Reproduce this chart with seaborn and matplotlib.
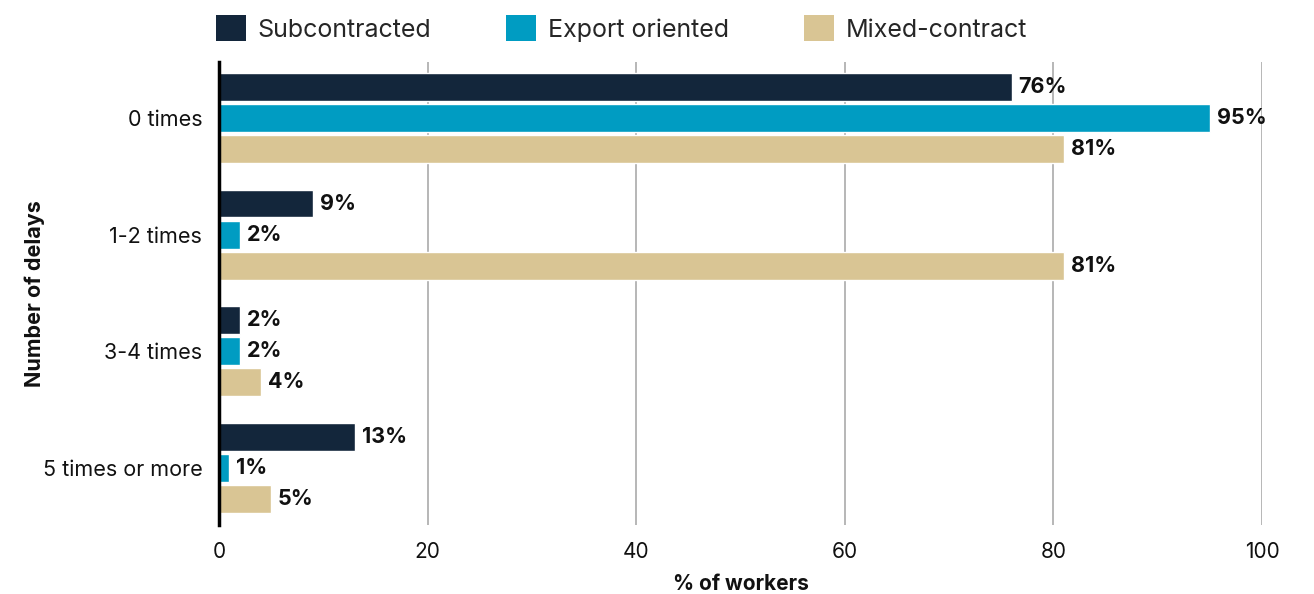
import matplotlib
matplotlib.use("Agg")
import matplotlib.pyplot as plt
import seaborn as sns
import pandas as pd
from matplotlib.patches import Patch

categories = ["0 times", "1-2 times", "3-4 times", "5 times or more"]
series = ["Subcontracted", "Export oriented", "Mixed-contract"]
subcontracted = [76, 9, 2, 13]
export_oriented = [95, 2, 2, 1]
mixed_contract = [81, 81, 4, 5]
colors = ["#13263b", "#009cc2", "#d9c594"]

rows = []
for s, vals in zip(series, [subcontracted, export_oriented, mixed_contract]):
    for c, v in zip(categories, vals):
        rows.append({"cat": c, "series": s, "value": v})
df = pd.DataFrame(rows)

sns.set_theme(style="white")
plt.rcParams["font.family"] = ["Inter", "DejaVu Sans"]

fig = plt.figure(figsize=(13.14, 5.94), dpi=100)
ax = fig.add_axes([219/1314, 1-525/594, (1262-219)/1314, (525-62)/594])

sns.barplot(data=df, y="cat", x="value", hue="series", palette=colors,
            order=categories, hue_order=series, orient="h",
            width=0.8, gap=0.1, ax=ax, legend=False, saturation=1)

for cont in ax.containers:
    ax.bar_label(cont, labels=[f"{int(v)}%" for v in cont.datavalues],
                 padding=5, fontsize=15.5, fontweight="bold", color="#111111")

ax.set_xlim(0, 100)
ax.set_ylim(3.49, -0.48)
ax.set_xticks([0, 20, 40, 60, 80, 100])
ax.xaxis.grid(True, color="#aaaaaa", linewidth=1.2)
ax.set_axisbelow(True)
for s in ["top", "right", "bottom"]:
    ax.spines[s].set_visible(False)
ax.spines["left"].set_color("black")
ax.spines["left"].set_linewidth(2.5)
ax.spines["left"].set_zorder(5)
ax.tick_params(axis="x", labelsize=15, colors="#111111", length=0, pad=12)
ax.tick_params(axis="y", labelsize=15.5, colors="#111111", length=0, pad=12)
ax.set_xlabel("% of workers", fontsize=15, fontweight="bold", color="#111111", labelpad=9)
ax.set_ylabel("Number of delays", fontsize=15.5, fontweight="bold", color="#111111")
ax.yaxis.set_label_coords(-0.167, 0.5)

handles = [Patch(facecolor=c, edgecolor="none") for c in colors]
fig.legend(handles, series, loc="upper left", bbox_to_anchor=(193/1314, 1.012),
           ncol=3, frameon=False, fontsize=18, handlelength=1.2, handleheight=1.2,
           columnspacing=3.0, handletextpad=0.48)

fig.savefig("out.png", dpi=100)
